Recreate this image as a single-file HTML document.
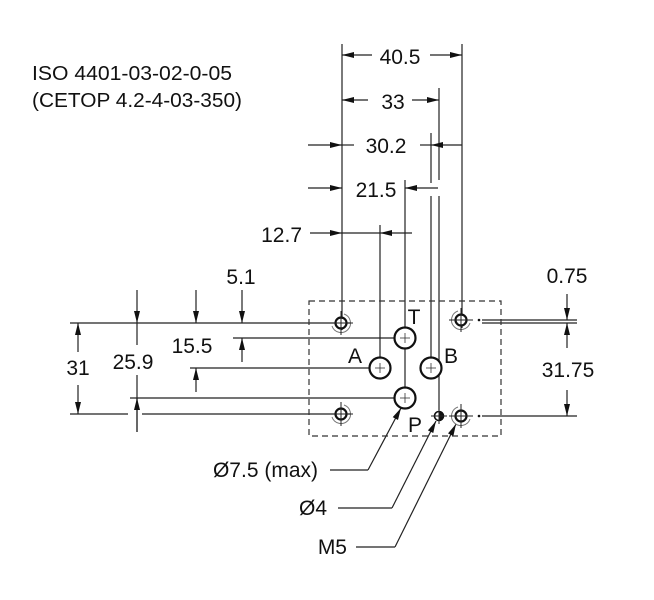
<!DOCTYPE html>
<html><head><meta charset="utf-8"><style>
html,body{margin:0;padding:0;background:#fff;}
svg{display:block;}
text{font-family:"Liberation Sans",Arial,sans-serif;fill:#111;}
</style></head><body>
<svg width="654" height="600" viewBox="0 0 654 600" xmlns="http://www.w3.org/2000/svg">
<defs>
<marker id="a" viewBox="0 0 12 6" refX="12" refY="3" markerWidth="13" markerHeight="6" markerUnits="userSpaceOnUse" orient="auto">
<path d="M0,0 L12,3 L0,6 Z" fill="#111"/></marker>
</defs>
<text x="32" y="80" font-size="20" textLength="200" lengthAdjust="spacingAndGlyphs">ISO 4401-03-02-0-05</text>
<text x="32" y="107" font-size="20" textLength="210" lengthAdjust="spacingAndGlyphs">(CETOP 4.2-4-03-350)</text>

<g stroke="#222" stroke-width="1.2" fill="none">
<line x1="342" y1="44" x2="342" y2="330"/>
<line x1="462" y1="44" x2="462" y2="328"/>
<line x1="439" y1="88" x2="439" y2="180"/><line x1="439" y1="196" x2="439" y2="410"/>
<line x1="431" y1="133" x2="431" y2="183"/><line x1="431" y1="196" x2="431" y2="375"/>
<line x1="405" y1="180" x2="405" y2="405"/>
<line x1="380" y1="225" x2="380" y2="378"/>
<line x1="372" y1="55" x2="342" y2="55" marker-end="url(#a)"/>
<line x1="430" y1="55" x2="462" y2="55" marker-end="url(#a)"/>
<line x1="368" y1="100" x2="342" y2="100" marker-end="url(#a)"/>
<line x1="412" y1="100" x2="439" y2="100" marker-end="url(#a)"/>
<line x1="308" y1="145" x2="342" y2="145" marker-end="url(#a)"/><line x1="342" y1="145" x2="354" y2="145"/>
<line x1="462" y1="145" x2="431" y2="145" marker-end="url(#a)"/><line x1="431" y1="145" x2="420" y2="145"/>
<line x1="308" y1="188" x2="342" y2="188" marker-end="url(#a)"/>
<line x1="438" y1="188" x2="405" y2="188" marker-end="url(#a)"/>
<line x1="310" y1="233" x2="342" y2="233" marker-end="url(#a)"/><line x1="342" y1="233" x2="380" y2="233"/>
<line x1="412" y1="233" x2="380" y2="233" marker-end="url(#a)"/>
<line x1="70" y1="323" x2="350" y2="323"/>
<line x1="233" y1="338" x2="395" y2="338"/>
<line x1="190" y1="368" x2="370" y2="368"/>
<line x1="130" y1="398" x2="395" y2="398"/>
<line x1="70" y1="414" x2="128" y2="414"/><line x1="142" y1="414" x2="350" y2="414"/>
<line x1="482" y1="320" x2="577" y2="320"/>
<line x1="482" y1="323" x2="577" y2="323"/>
<line x1="482" y1="416" x2="577" y2="416"/>
<line x1="78" y1="352" x2="78" y2="323" marker-end="url(#a)"/>
<line x1="78" y1="385" x2="78" y2="414" marker-end="url(#a)"/>
<line x1="137" y1="290" x2="137" y2="323" marker-end="url(#a)"/><line x1="137" y1="323" x2="137" y2="345"/>
<line x1="137" y1="375" x2="137" y2="432"/>
<line x1="137" y1="432" x2="137" y2="398" marker-end="url(#a)"/>
<line x1="196" y1="290" x2="196" y2="323" marker-end="url(#a)"/>
<line x1="196" y1="392" x2="196" y2="368" marker-end="url(#a)"/>
<line x1="242" y1="290" x2="242" y2="323" marker-end="url(#a)"/>
<line x1="242" y1="362" x2="242" y2="338" marker-end="url(#a)"/>
<line x1="567" y1="294" x2="567" y2="320" marker-end="url(#a)"/>
<line x1="567" y1="348" x2="567" y2="323" marker-end="url(#a)"/>
<line x1="567" y1="390" x2="567" y2="416" marker-end="url(#a)"/>
<polyline points="330,470 368,470"/>
<line x1="368" y1="470" x2="401" y2="408" marker-end="url(#a)"/>
<polyline points="338,508 392,508"/>
<line x1="392" y1="508" x2="436" y2="421" marker-end="url(#a)"/>
<polyline points="356,547 395,547"/>
<line x1="395" y1="547" x2="456" y2="424" marker-end="url(#a)"/>
</g>
<rect x="309" y="301" width="192" height="135" fill="none" stroke="#333" stroke-width="1.2" stroke-dasharray="6,4"/>
<g stroke="#111" stroke-width="2.2" fill="#fff">
<circle cx="405" cy="338" r="10.5"/>
<circle cx="380" cy="368" r="10.5"/>
<circle cx="431" cy="368" r="10.5"/>
<circle cx="405" cy="398" r="10.5"/>
</g>
<g stroke="#333" stroke-width="0.8">
<line x1="405" y1="333" x2="405" y2="343"/><line x1="400" y1="338" x2="410" y2="338"/>
<line x1="380" y1="363" x2="380" y2="373"/><line x1="375" y1="368" x2="385" y2="368"/>
<line x1="431" y1="363" x2="431" y2="373"/><line x1="426" y1="368" x2="436" y2="368"/>
<line x1="405" y1="393" x2="405" y2="403"/><line x1="400" y1="398" x2="410" y2="398"/>
</g>
<g>
<g transform="translate(341,323)">
<path d="M3,-9 A9.5,9.5 0 1,1 -9,3" fill="none" stroke="#777" stroke-width="1"/>
<circle r="5.5" fill="#fff" stroke="#111" stroke-width="2.2"/>
<line x1="-12" y1="0" x2="12" y2="0" stroke="#222"/><line x1="0" y1="-12" x2="0" y2="12" stroke="#222"/>
</g>
<g transform="translate(341,414)">
<path d="M3,-9 A9.5,9.5 0 1,1 -9,3" fill="none" stroke="#777" stroke-width="1"/>
<circle r="5.5" fill="#fff" stroke="#111" stroke-width="2.2"/>
<line x1="-12" y1="0" x2="12" y2="0" stroke="#222"/><line x1="0" y1="-12" x2="0" y2="12" stroke="#222"/>
</g>
<g transform="translate(461,320)">
<path d="M9,3 A9.5,9.5 0 1,1 -3,-9" fill="none" stroke="#777" stroke-width="1"/>
<circle r="5.5" fill="#fff" stroke="#111" stroke-width="2.2"/>
<line x1="-12" y1="0" x2="12" y2="0" stroke="#222"/><line x1="0" y1="-12" x2="0" y2="12" stroke="#222"/>
<circle cx="18" cy="0" r="1.3" fill="#111"/>
</g>
<g transform="translate(461,416)">
<path d="M9,3 A9.5,9.5 0 1,1 -3,-9" fill="none" stroke="#777" stroke-width="1"/>
<circle r="5.5" fill="#fff" stroke="#111" stroke-width="2.2"/>
<line x1="-12" y1="0" x2="12" y2="0" stroke="#222"/><line x1="0" y1="-12" x2="0" y2="12" stroke="#222"/>
<circle cx="18" cy="0" r="1.3" fill="#111"/>
</g>
<g transform="translate(439,416)">
<circle r="4.5" fill="#fff" stroke="#111" stroke-width="1.6"/>
<path d="M0,-4.5 A4.5,4.5 0 0,1 0,4.5 Z" fill="#111"/>
<line x1="-8" y1="0" x2="8" y2="0" stroke="#222"/><line x1="0" y1="-8" x2="0" y2="8" stroke="#222"/>
</g>
</g>
<g font-size="21">
<text x="400" y="64" text-anchor="middle">40.5</text>
<text x="393" y="109" text-anchor="middle">33</text>
<text x="386" y="153" text-anchor="middle">30.2</text>
<text x="376" y="197" text-anchor="middle">21.5</text>
<text x="302" y="242" text-anchor="end">12.7</text>
<text x="241" y="284" text-anchor="middle">5.1</text>
<text x="567" y="283" text-anchor="middle">0.75</text>
<text x="568" y="377" text-anchor="middle">31.75</text>
<text x="78" y="375" text-anchor="middle">31</text>
<text x="133" y="369" text-anchor="middle">25.9</text>
<text x="192" y="353" text-anchor="middle">15.5</text>
<text x="414" y="324" text-anchor="middle">T</text>
<text x="355" y="363" text-anchor="middle">A</text>
<text x="451" y="363" text-anchor="middle">B</text>
<text x="415" y="432" text-anchor="middle">P</text>
<text x="318" y="477" text-anchor="end">Ø7.5 (max)</text>
<text x="327" y="515" text-anchor="end">Ø4</text>
<text x="347" y="554" text-anchor="end">M5</text>
</g>
</svg>
</body></html>
